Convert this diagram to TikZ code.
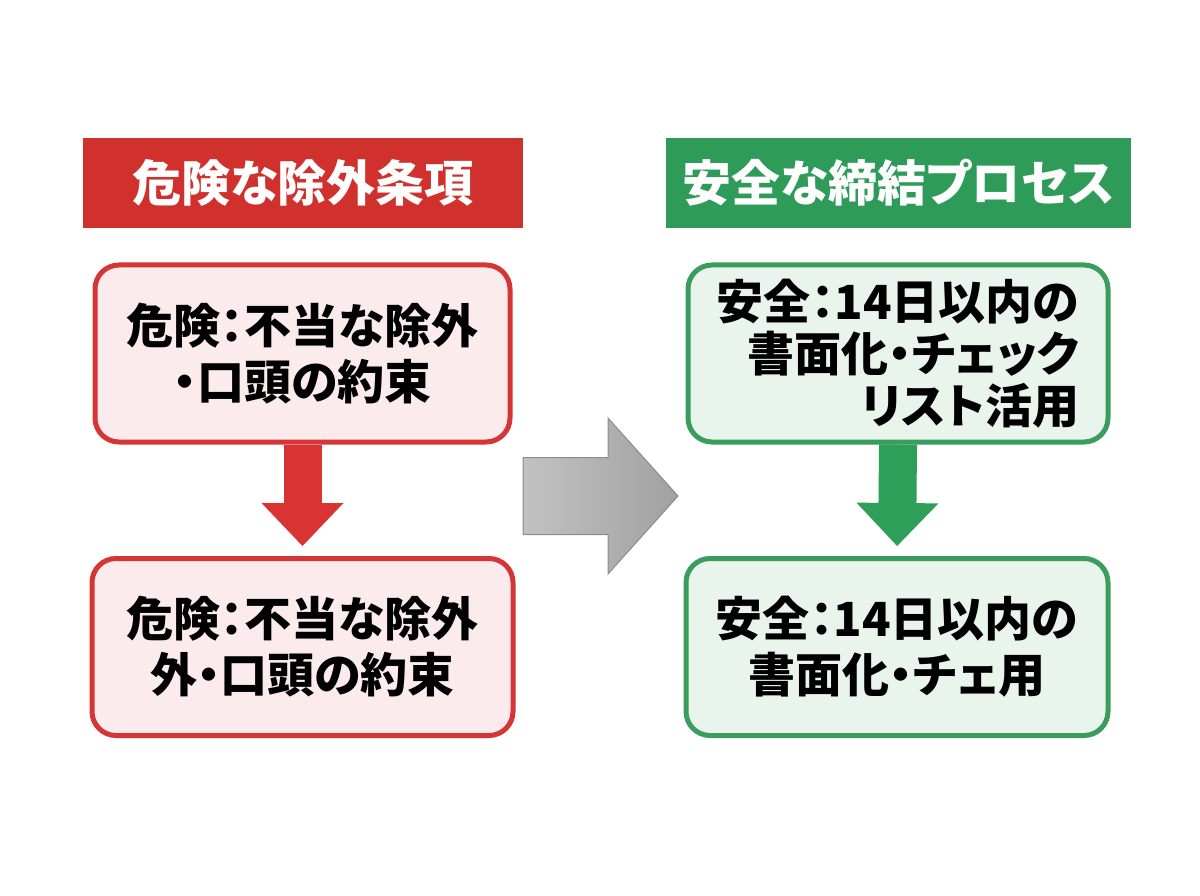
\documentclass[tikz,border=0pt]{standalone}
\usepackage{fontspec}
\newfontfamily\jpfont{Noto Sans CJK JP}[RawFeature=+palt]
\usepackage{xcolor}
\usetikzlibrary{positioning,arrows.meta}

\definecolor{hdrred}{HTML}{D0312D}
\definecolor{hdrgreen}{HTML}{2F9B58}
\definecolor{redline}{HTML}{D63535}
\definecolor{redfill}{HTML}{FCEBEC}
\definecolor{greenline}{HTML}{3A9D5D}
\definecolor{greenfill}{HTML}{E9F4EC}
\definecolor{redarr}{HTML}{D93333}
\definecolor{greenarr}{HTML}{2E9E58}

\begin{document}
\begin{tikzpicture}[x=1pt,y=-1pt,
    every node/.style={inner sep=0pt,font=\jpfont\bfseries\fontsize{47}{56}\selectfont},
    hdr/.style={rectangle,text=white,minimum height=90pt,
                font=\jpfont\bfseries\fontsize{49}{60}\selectfont},
    rbox/.style={rectangle,rounded corners=24pt,draw=redline,fill=redfill,line width=5pt,
                 minimum width=415pt,minimum height=177pt,align=center},
    gbox/.style={rectangle,rounded corners=24pt,draw=greenline,fill=greenfill,line width=5pt,
                 minimum width=420pt,minimum height=177pt,align=center},
    fatarrow/.style={line width=38pt,shorten >=10pt,
                     -{Triangle[length=43pt,width=82pt,line width=0pt]}}]
    \useasboundingbox (0,0) rectangle (1200,896);
    \fill[white] (0,0) rectangle (1200,896);
    % headers
    \node[hdr,fill=hdrred,minimum width=440pt] (H1) at (303,183) {危険な除外条項};
    \node[hdr,fill=hdrgreen,minimum width=465pt] (H2) at (898.5,183) {安全な締結プロセス};
    % left column
    \node[rbox] (R1) at (302.5,353.5) {危険：不当な除外\\・口頭の約束};
    \node[rbox,minimum width=421pt] (R2) at (302.5,647) {危険：不当な除外\\外・口頭の約束};
    % right column
    \node[gbox,align=right,font=\jpfont\bfseries\fontsize{47}{52}\selectfont] (G1) at (898,353.5)
        {安全：14日以内の\\書面化・チェック\\リスト活用};
    \node[gbox,minimum width=422pt] (G2) at (897,647) {安全：14日以内の\\書面化・チェ用};
    \draw[fatarrow,redarr] (R1.south) -- (R2.north);
    \draw[fatarrow,greenarr] (G1.south) -- (G2.north);
    % middle arrow
    \coordinate (M) at (600,496);
    \shade[shift={(M)},left color=black!24,right color=black!37,draw=black!45,line width=1pt]
        (-77,-38.5) -- (8,-38.5) -- (8,-78) -- (78,0) -- (8,78) -- (8,38.5) -- (-77,38.5) -- cycle;
\end{tikzpicture}
\end{document}
